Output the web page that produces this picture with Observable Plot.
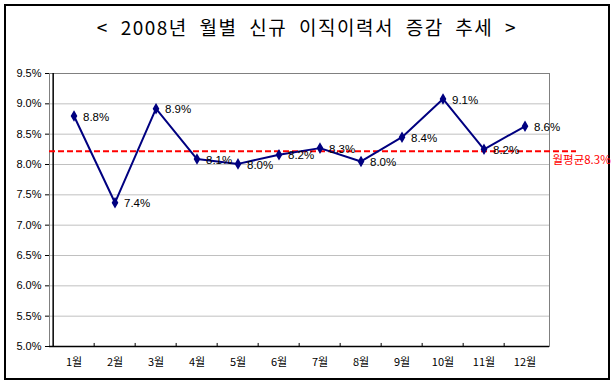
<!DOCTYPE html>
<html>
<head>
<meta charset="utf-8">
<script src="https://cdn.jsdelivr.net/npm/d3@7"></script>
<script src="https://cdn.jsdelivr.net/npm/@observablehq/plot@0.6"></script>
<style>
  html, body { margin: 0; padding: 0; background: #fff; }
  #wrap { position: relative; width: 614px; height: 385px; overflow: hidden; font-family: "Noto Sans CJK KR", "Liberation Sans", sans-serif; }
  #border { position: absolute; left: 4px; top: 4px; width: 602px; height: 372px; border: 2px solid #000; }
  #title { position: absolute; left: 0; top: 14px; width: 614px; text-align: center; font-size: 19px; line-height: 25px; letter-spacing: 1.5px; word-spacing: 6px; color: #000; }
  #chart { position: absolute; left: 0; top: 50px; }
</style>
</head>
<body>
<div id="wrap">
  <div id="border"></div>
  <div id="title">&lt; 2008년 월별 신규 이직이력서 증감 추세 &gt;</div>
  <div id="chart"></div>
</div>
<script>
const months = ["1월","2월","3월","4월","5월","6월","7월","8월","9월","10월","11월","12월"];
const rates = [8.80, 7.37, 8.92, 8.09, 8.01, 8.16, 8.27, 8.05, 8.45, 9.08, 8.25, 8.63];
const rateLabels = ["8.8%","7.4%","8.9%","8.1%","8.0%","8.2%","8.3%","8.0%","8.4%","9.1%","8.2%","8.6%"];
const avgRate = 8.22;
const avgLabel = "월평균8.3%";
const yTicks = [5.0, 5.5, 6.0, 6.5, 7.0, 7.5, 8.0, 8.5, 9.0, 9.5];

const data = months.map((m, i) => ({month: m, rate: rates[i], label: rateLabels[i]}));

const W = 614, H = 335;
const mL = 49, mR = 65, mT = 23, mB = 39;
const bandHalf = (W - mL - mR) / months.length / 2;

const chart = Plot.plot({
  width: W,
  height: H,
  marginLeft: mL,
  marginRight: mR,
  marginTop: mT,
  marginBottom: mB,
  style: {fontFamily: "'Liberation Sans', 'Noto Sans CJK KR', sans-serif", fontSize: "11px", color: "#000", background: "transparent"},
  x: {type: "band", domain: months, paddingInner: 0, paddingOuter: 0, label: null},
  y: {domain: [5, 9.5], label: null},
  marks: [
    Plot.gridY(yTicks, {stroke: "#c0c0c0", strokeOpacity: 1, strokeWidth: 1}),
    Plot.frame({stroke: "#808080"}),
    Plot.axisY(yTicks, {tickFormat: d => d.toFixed(1) + "%", tickSize: 4, tickPadding: 4, fontSize: 11, label: null}),
    Plot.axisX({tickSize: 0, tickPadding: 12, fontFamily: "'Noto Sans CJK KR', sans-serif", fontSize: 11, label: null}),
    Plot.ruleX([months[0]], {dx: -bandHalf, stroke: "#000", strokeWidth: 1.5}),
    Plot.ruleY([5], {stroke: "#000", strokeWidth: 1.5}),
    Plot.ruleX(months.slice(1), {x: d => d, dx: -bandHalf, y1: 5, y2: 5.05, stroke: "#000"}),
    Plot.ruleY([avgRate], {stroke: "#ff0000", strokeWidth: 2, strokeDasharray: "6,3", insetRight: -27}),
    Plot.text([avgLabel], {frameAnchor: "right", y: avgRate, text: d => d, dx: 3, dy: 9, textAnchor: "start", fill: "#ff0000", fontSize: 11.5, fontFamily: "'Noto Sans CJK KR', sans-serif"}),
    Plot.line(data, {x: "month", y: "rate", stroke: "#000080", strokeWidth: 2}),
    Plot.dot(data, {x: "month", y: "rate", symbol: "diamond", r: 2.6, fill: "#000080", stroke: "#000080"}),
    Plot.text(data, {x: "month", y: "rate", text: "label", dx: 9, dy: 1, textAnchor: "start", fill: "#000", fontSize: 11.5})
  ]
});
document.getElementById("chart").appendChild(chart);
</script>
</body>
</html>
